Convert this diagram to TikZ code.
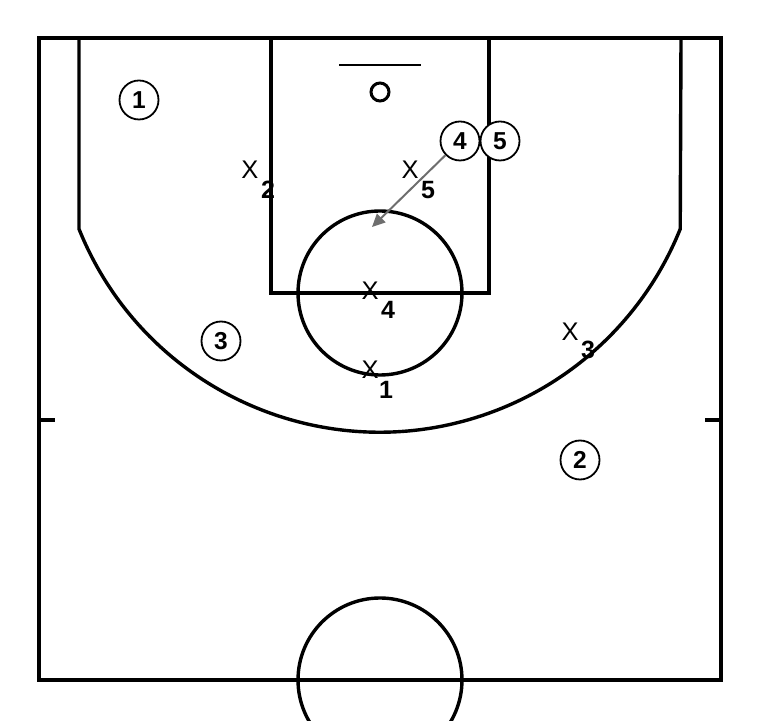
\documentclass[tikz,border=0pt]{standalone}
\usepackage{fontspec}
\setmainfont{Liberation Sans}
\usetikzlibrary{arrows.meta}
\tikzset{
  court/.style={line width=3.4pt, black},
  player/.style={circle, draw, line width=1.8pt, minimum size=39pt, inner sep=0pt, font=\fontsize{24.5}{28}\selectfont\bfseries},
  defx/.style={inner sep=0pt, font=\fontsize{25.5}{28}\selectfont},
  defsub/.style={inner sep=0pt, font=\fontsize{25}{28}\selectfont\bfseries},
  move/.style={line width=2pt, draw={rgb,255:red,110;green,110;blue,110}, -{Triangle[length=13pt,width=12pt]}}
}
\begin{document}
\begin{tikzpicture}[x=1pt,y=1pt]
\useasboundingbox (0,0) rectangle (760,720);
\clip (0,0) rectangle (760,720);
% court outline
\draw[court] (39,40) rectangle (721,682);
% three point line
\draw[court] (79,682) -- (79,491) arc[start angle=201.9, end angle=338.1, radius=324] -- (681,682);
% lane
\draw[court] (271,682) -- (271,427) -- (489,427) -- (489,682);
% free throw circle
\draw[court] (380,427) circle[radius=82];
% center circle
\draw[court] (380,40) circle[radius=82];
% backboard and basket
\draw[line width=2.2pt] (339,655) -- (421,655);
\draw[line width=3pt] (380,628) circle[radius=9];
% half-court ticks
\draw[court] (39,300) -- (55,300);
\draw[court] (705,300) -- (721,300);
% offensive players
\node[player] (p1) at (139,620) {1};
\node[player] (p2) at (580,260) {2};
\node[player] (p3) at (221,379) {3};
\node[player] (p4) at (460,579) {4};
\node[player,fill=white] (p5) at (500,579) {5};
% defenders
\node[defx] (x2) at (250,550) {X};
\node[defsub] (s2) at (268,530) {2};
\node[defx] (x5) at (410,550) {X};
\node[defsub] (s5) at (428,530) {5};
\node[defx] (x4) at (370,429) {X};
\node[defsub] (s4) at (388,410) {4};
\node[defx] (x1) at (370,350) {X};
\node[defsub] (s1) at (386,330) {1};
\node[defx] (x3) at (570,388) {X};
\node[defsub] (s3) at (588,370) {3};
% movement
\coordinate (t4) at (372,493);
\draw[move] (p4) -- (t4);
\end{tikzpicture}
\end{document}
